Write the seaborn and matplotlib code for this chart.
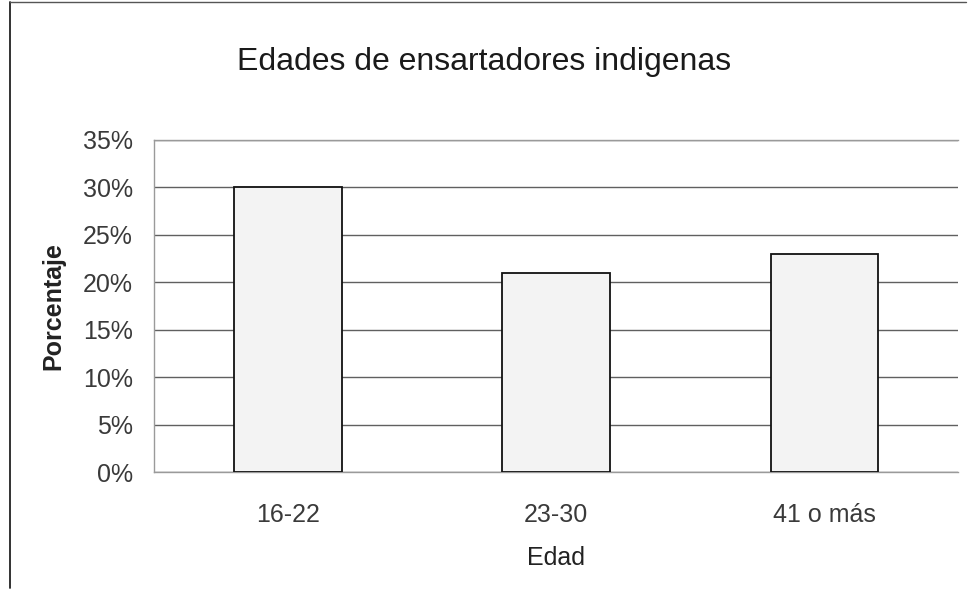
import matplotlib
matplotlib.use('Agg')
import matplotlib.pyplot as plt
import seaborn as sns
import pandas as pd
from matplotlib.ticker import PercentFormatter
from matplotlib.lines import Line2D

# --- DATA ---
edades = ["16-22", "23-30", "41 o más"]
porcentajes = [0.30, 0.21, 0.23]
y_ticks = [0.0, 0.05, 0.10, 0.15, 0.20, 0.25, 0.30, 0.35]

df = pd.DataFrame({"Edad": edades, "Porcentaje": porcentajes})

sns.set_style("white")
plt.rcParams['font.family'] = ['Liberation Sans', 'DejaVu Sans']

fig = plt.figure(figsize=(9.68, 6.0), dpi=100)
ax = fig.add_axes([0.159, 0.2133, 0.831, 0.5534])

sns.barplot(data=df, x="Edad", y="Porcentaje", color="#f3f3f3",
            edgecolor="#111111", linewidth=1.3, width=0.4, ax=ax, zorder=3)

ax.set_ylim(0, 0.35)
ax.set_yticks(y_ticks)
ax.yaxis.set_major_formatter(PercentFormatter(1.0, decimals=0))
ax.set_xlim(-0.5, 2.5)
ax.grid(axis="y", color="#606060", linewidth=1.0, zorder=0)
ax.set_axisbelow(True)

for side in ["left", "top", "bottom"]:
    ax.spines[side].set_color("#9a9a9a")
    ax.spines[side].set_linewidth(1.0)
ax.spines["right"].set_visible(False)

ax.tick_params(axis="both", length=0, labelsize=18, colors="#3a3a3a")
ax.tick_params(axis="y", pad=15)
ax.tick_params(axis="x", pad=22)

ax.set_xlabel("Edad", fontsize=18, color="#222222", labelpad=14)
ax.set_ylabel("Porcentaje", fontsize=18, fontweight="bold", color="#222222", labelpad=13)

fig.text(0.5, 0.896, "Edades de ensartadores indigenas", ha="center", va="center",
         fontsize=23, color="#1a1a1a")

# figure frame (left and top edges of the scanned chart box)
fig.add_artist(Line2D([0.01, 0.01], [0.02, 0.997], color="#222222", linewidth=1.3))
fig.add_artist(Line2D([0.01, 0.998], [0.997, 0.997], color="#555555", linewidth=1.0))

fig.savefig("out.png", dpi=100, facecolor="white")
plt.close(fig)
